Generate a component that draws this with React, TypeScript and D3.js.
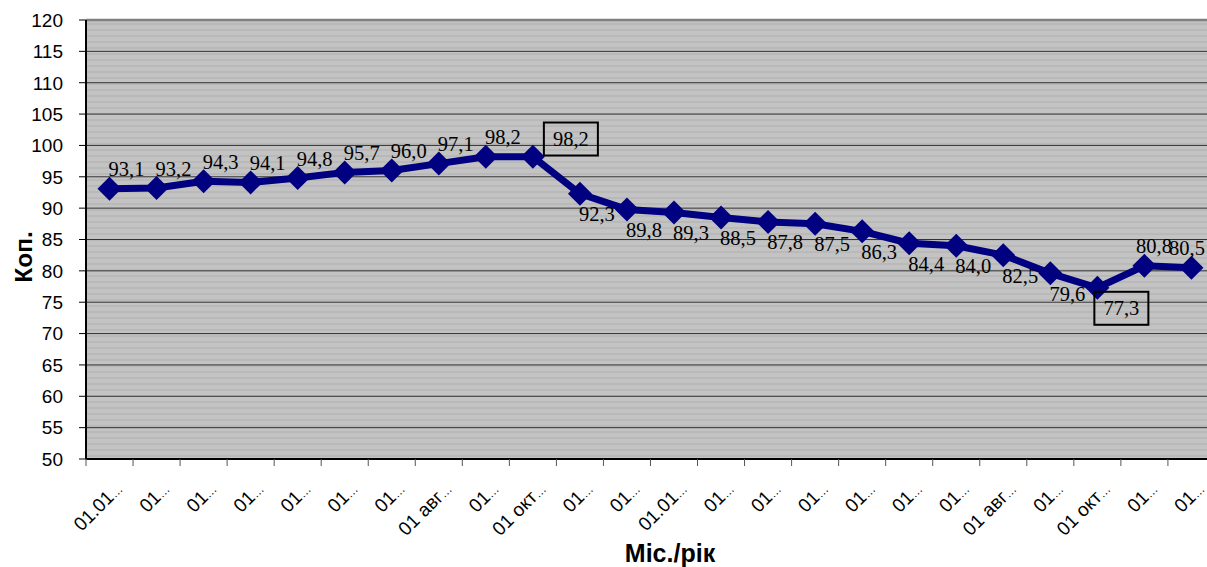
import React from "react";
import * as d3 from "d3";

const categories = [
  "01.01", "01", "01", "01", "01", "01", "01", "01 авг", "01", "01 окт",
  "01", "01", "01.01", "01", "01", "01", "01", "01", "01", "01 авг",
  "01", "01 окт", "01", "01",
];
const values = [
  93.1, 93.2, 94.3, 94.1, 94.8, 95.7, 96.0, 97.1, 98.2, 98.2,
  92.3, 89.8, 89.3, 88.5, 87.8, 87.5, 86.3, 84.4, 84.0, 82.5,
  79.6, 77.3, 80.8, 80.5,
];
const yTicks = [50, 55, 60, 65, 70, 75, 80, 85, 90, 95, 100, 105, 110, 115, 120];
const yTitle = "Коп.";
const xTitle = "Міс./рік";
const ellipsis = "…";

const W = 1207;
const H = 567;
const LEFT = 86;
const TOP = 20;
const BOTTOM = 459;
const STEP = 47.04;

const sans = "'Liberation Sans', Arial, sans-serif";
const serif = "'Liberation Serif', 'Times New Roman', serif";
const NAVY = "#000080";

const fmt = (v: number) => d3.format(".1f")(v).replace(".", ",");

export default function App() {
  const x = d3
    .scaleBand<number>()
    .domain(d3.range(categories.length))
    .range([LEFT, LEFT + STEP * categories.length])
    .paddingInner(0)
    .paddingOuter(0);
  const y = d3.scaleLinear().domain([50, 120]).range([BOTTOM, TOP]);
  const cx = (i: number) => (x(i) as number) + x.bandwidth() / 2;
  const right = LEFT + STEP * categories.length;

  const line = d3
    .line<number>()
    .x((_, i) => cx(i))
    .y((d) => y(d));

  const boxed: Record<number, number> = { 9: 38, 21: 24 };
  const isAbove = (i: number) => i < 10 || i >= 22;

  const diamond = (px: number, py: number, r: number) =>
    `M${px},${py - r}L${px + r},${py}L${px},${py + r}L${px - r},${py}Z`;

  // label placement
  const LABEL_W = 36;
  const labels = values.map((v, i) => {
    const px = cx(i);
    const py = y(v);
    const above = isAbove(i);
    const isBoxed = boxed[i] !== undefined;
    const dx = isBoxed ? boxed[i] : 17;
    const ty = above ? py - (isBoxed ? 10.7 : 12.5) : py + 27.5;
    const tx = Math.min(px + dx, W - 20);
    return { v, tx, ty, above, isBoxed };
  });
  for (let i = labels.length - 2; i >= 0; i--) {
    const a = labels[i];
    const b = labels[i + 1];
    if (a.above === b.above && !a.isBoxed && !b.isBoxed && b.tx - a.tx < LABEL_W - 3) {
      a.tx = b.tx - (LABEL_W - 3);
    }
  }

  return (
    <svg
      width={W}
      height={H}
      style={{ position: "absolute", left: 0, top: 0, background: "#fff" }}
    >
      <defs>
        <pattern id="stripes" patternUnits="userSpaceOnUse" width={8} height={6} y={TOP}>
          <rect width={8} height={6} fill="#c3c3c3" />
          <rect y={3} width={8} height={2} fill="#b9b9b9" />
        </pattern>
      </defs>

      {/* plot area */}
      <rect x={LEFT} y={TOP} width={right - LEFT} height={BOTTOM - TOP} fill="url(#stripes)" />

      {/* gridlines */}
      {yTicks.map((t) => (
        <line
          key={"g" + t}
          x1={LEFT}
          x2={right}
          y1={y(t)}
          y2={y(t)}
          stroke={t === 120 ? "#808080" : "#333"}
          strokeWidth={t === 120 ? 2.5 : 1}
        />
      ))}

      {/* y axis */}
      <line x1={LEFT} x2={LEFT} y1={TOP} y2={BOTTOM} stroke="#000" strokeWidth={2} />
      {yTicks.map((t) => (
        <g key={"yt" + t}>
          <line x1={LEFT - 7} x2={LEFT} y1={y(t)} y2={y(t)} stroke="#000" strokeWidth={1} />
          <text
            x={63}
            y={y(t)}
            dy="0.36em"
            textAnchor="end"
            fontFamily={sans}
            fontSize={19}
            fill="#000"
          >
            {t}
          </text>
        </g>
      ))}

      {/* x axis */}
      <line x1={LEFT} x2={right} y1={BOTTOM} y2={BOTTOM} stroke="#000" strokeWidth={2} />
      {d3.range(categories.length + 1).map((i) => (
        <line
          key={"xt" + i}
          x1={LEFT + i * STEP}
          x2={LEFT + i * STEP}
          y1={BOTTOM}
          y2={BOTTOM + 7}
          stroke="#555"
          strokeWidth={1}
        />
      ))}
      {categories.map((c, i) => (
        <text
          key={"xl" + i}
          transform={`translate(${cx(i) + 14},${490}) rotate(-45)`}
          textAnchor="end"
          fontFamily={sans}
          fontSize={19}
          fill="#000"
        >
          {c}
          <tspan fontSize={12}>{ellipsis}</tspan>
        </text>
      ))}

      {/* series */}
      <path d={line(values) || ""} fill="none" stroke={NAVY} strokeWidth={7} strokeLinejoin="round" />
      {values.map((v, i) => (
        <path key={"m" + i} d={diamond(cx(i), y(v), 12)} fill={NAVY} />
      ))}

      {/* data labels */}
      {labels.map((l, i) => (
        <g key={"dl" + i}>
          {l.isBoxed && (
            <rect
              x={l.tx - 27}
              y={l.ty - 23.5}
              width={54}
              height={33}
              fill="none"
              stroke="#000"
              strokeWidth={2}
            />
          )}
          <text
            x={l.tx}
            y={l.ty}
            textAnchor="middle"
            fontFamily={serif}
            fontSize={20.5}
            fill="#000"
          >
            {fmt(l.v)}
          </text>
        </g>
      ))}

      {/* titles */}
      <text
        transform={`translate(${32},${257}) rotate(-90)`}
        textAnchor="middle"
        fontFamily={sans}
        fontWeight="bold"
        fontSize={24.5}
        fill="#000"
      >
        {yTitle}
      </text>
      <text
        x={670}
        y={562}
        textAnchor="middle"
        fontFamily={sans}
        fontWeight="bold"
        fontSize={25}
        fill="#000"
      >
        {xTitle}
      </text>
    </svg>
  );
}
